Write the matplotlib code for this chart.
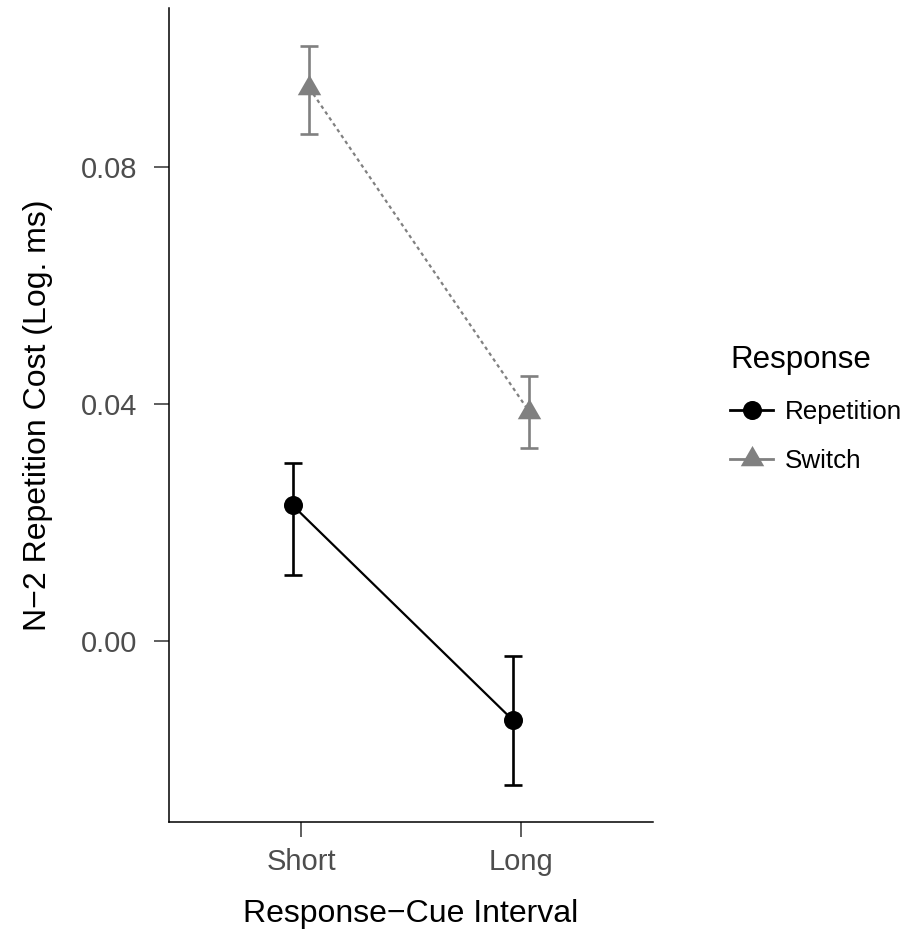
import matplotlib
matplotlib.use("Agg")
import matplotlib.pyplot as plt
import numpy as np
from matplotlib.path import Path
from matplotlib.lines import Line2D

plt.rcParams['font.family'] = ['Liberation Sans', 'DejaVu Sans']

categories = ["Short", "Long"]
series_names = ["Repetition", "Switch"]
repetition_mean = [0.0229, -0.0133]
repetition_lo = [0.0111, -0.0243]
repetition_hi = [0.0300, -0.0025]
switch_mean = [0.0933, 0.0387]
switch_lo = [0.0856, 0.0325]
switch_hi = [0.1004, 0.0448]
yticks = [0.00, 0.04, 0.08]

fig = plt.figure(figsize=(9.09, 9.42), dpi=100)
ax = fig.add_axes([169/909, 1 - 822/942, (653-169)/909, (822-8)/942])

x = np.arange(1, len(categories) + 1)
dodge = 0.0375

tri = Path([(-1, -0.577), (1, -0.577), (0, 1.155), (-1, -0.577)],
           [Path.MOVETO, Path.LINETO, Path.LINETO, Path.CLOSEPOLY])

styles = [
    dict(mean=repetition_mean, lo=repetition_lo, hi=repetition_hi, color="black",
         marker="o", ms=13.7, off=-dodge, dashes=None),
    dict(mean=switch_mean, lo=switch_lo, hi=switch_hi, color="#808080",
         marker=tri, ms=19.5, off=dodge, dashes=(1.6, 1.6)),
]
handles = []
for name, s in zip(series_names, styles):
    xs = x + s["off"]
    m = np.array(s["mean"]); lo = np.array(s["lo"]); hi = np.array(s["hi"])
    ax.errorbar(xs, m, yerr=[m - lo, hi - m], fmt="none", ecolor=s["color"],
                elinewidth=1.9, capsize=6.2, capthick=1.9, zorder=2)
    line, = ax.plot(xs, m, color=s["color"], lw=1.6, marker=s["marker"],
                    ms=s["ms"], mec=s["color"], mfc=s["color"], mew=0,
                    label=name, zorder=3)
    if s["dashes"]:
        line.set_dashes(s["dashes"])
    handles.append(Line2D([], [], color=s["color"], lw=2.0, marker=s["marker"],
                          ms=s["ms"], mec=s["color"], mfc=s["color"], mew=0))

ax.set_xlim(0.4, 2.6)
ax.set_ylim(-0.0305, 0.1068)
ax.set_xticks(x)
ax.set_xticklabels(categories)
ax.set_yticks(yticks)
ax.set_yticklabels([f"{v:.2f}" for v in yticks])

for sp in ["top", "right"]:
    ax.spines[sp].set_visible(False)
for sp in ["left", "bottom"]:
    ax.spines[sp].set_linewidth(1.1)
    ax.spines[sp].set_color("black")
ax.tick_params(axis="both", length=11, width=1.1, color="#333333",
               labelcolor="#4D4D4D", labelsize=21)
ax.tick_params(axis="y", pad=12)
ax.tick_params(axis="x", pad=8)

ax.set_xlabel("Response\u2212Cue Interval", fontsize=23, labelpad=16)
ax.set_ylabel("N\u22122 Repetition Cost (Log. ms)", fontsize=23, labelpad=20)

leg = fig.legend(handles=handles, labels=series_names, title="Response",
                 loc="center left", bbox_to_anchor=(707/909, 1 - 409/942),
                 frameon=False, fontsize=18.7, title_fontsize=22.5,
                 handlelength=1.65, handletextpad=0.45, labelspacing=0.95,
                 alignment="left")

fig.savefig("out.png", dpi=100)
